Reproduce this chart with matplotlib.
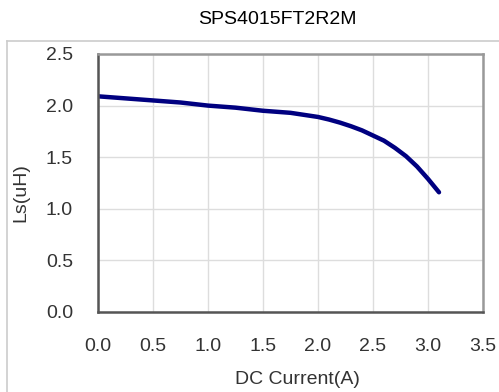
import matplotlib.pyplot as plt
from matplotlib.lines import Line2D

plt.rcParams['font.family'] = ['Liberation Sans', 'DejaVu Sans']

# data
current = [0.0, 0.25, 0.5, 0.75, 1.0, 1.25, 1.5, 1.75, 2.0, 2.1, 2.2, 2.3, 2.4,
           2.5, 2.6, 2.7, 2.8, 2.9, 3.0, 3.1]
inductance = [2.09, 2.07, 2.05, 2.03, 2.00, 1.98, 1.95, 1.93, 1.89, 1.865, 1.835,
              1.80, 1.76, 1.71, 1.66, 1.59, 1.51, 1.41, 1.29, 1.16]

x_ticks = [0.0, 0.5, 1.0, 1.5, 2.0, 2.5, 3.0, 3.5]
y_ticks = [0.0, 0.5, 1.0, 1.5, 2.0, 2.5]

fig = plt.figure(figsize=(4.99, 3.92), dpi=100)
ax = fig.add_axes([98 / 499, 80 / 392, 385 / 499, 258 / 392])

# outer light frame (top and left edges visible)
fig.add_artist(Line2D([7 / 499, 1.0], [1 - 41 / 392] * 2, color='#cccccc', lw=1.2))
fig.add_artist(Line2D([7 / 499] * 2, [0, 1 - 41 / 392], color='#cccccc', lw=1.2))

ax.plot(current, inductance, color='#000080', lw=3.2,
        solid_capstyle='round', solid_joinstyle='round')

ax.set_xlim(0, 3.5)
ax.set_ylim(0, 2.5)
ax.set_xticks(x_ticks)
ax.set_yticks(y_ticks)
ax.set_xticklabels([f"{v:.1f}" for v in x_ticks])
ax.set_yticklabels([f"{v:.1f}" for v in y_ticks])
ax.tick_params(length=0, labelsize=14, labelcolor='#333333')
ax.tick_params(axis='x', pad=19)
ax.tick_params(axis='y', pad=18)
ax.grid(True, color='#dddddd', lw=1)

for side in ['left', 'bottom']:
    ax.spines[side].set_color('#555555')
    ax.spines[side].set_linewidth(1.8)
for side in ['top', 'right']:
    ax.spines[side].set_color('#999999')
    ax.spines[side].set_linewidth(1.8)

fig.text(277 / 499, 1 - 20 / 392, "SPS4015FT2R2M", ha='center', va='center',
         fontsize=14, color='black')
fig.text(297 / 499, 1 - 380 / 392, "DC Current(A)", ha='center', va='center',
         fontsize=14, color='#333333')
fig.text(21 / 499, 1 - 193 / 392, "Ls(uH)", ha='center', va='center',
         rotation=90, fontsize=14, color='#333333')

fig.savefig("out.png", dpi=100)
